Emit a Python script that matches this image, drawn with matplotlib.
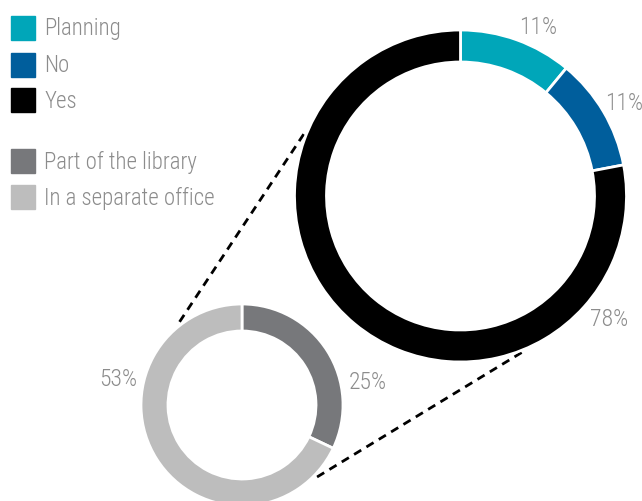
import numpy as np
import matplotlib.pyplot as plt
from matplotlib import font_manager
from matplotlib.patches import Rectangle

# outer ring: does the institution have it
main_labels = ['Planning', 'No', 'Yes']
main_values = [11, 11, 78]
main_colors = ['#00A6B9', '#005E9C', '#000000']

# inner ring: breakdown of "Yes"
sub_labels = ['Part of the library', 'In a separate office']
sub_values = [25, 53]
sub_colors = ['#77787B', '#BDBDBD']

W, H = 642, 502
TEXT_GREY = '#8C8C8C'

# prefer a condensed face when one is around
names = {f.name for f in font_manager.fontManager.ttflist}
FAMILY = 'DejaVu Sans'
STRETCH = 'normal'
for cand in ['Roboto Condensed', 'Liberation Sans Narrow', 'DejaVu Sans Condensed']:
    if cand in names:
        FAMILY = cand
        break
else:
    STRETCH = 'condensed'
TXT = dict(family=FAMILY, stretch=STRETCH, weight='light', color=TEXT_GREY)


def py(y):
    # pixel rows counted from the top
    return H - y


fig = plt.figure(figsize=(W / 100, H / 100), dpi=100)
ax = fig.add_axes([0, 0, 1, 1])

big_c, big_r, big_w = (460.5, py(197)), 166, 32
small_c, small_r, small_w = (242, py(406)), 101, 27

ax.pie(main_values, colors=main_colors, startangle=90, counterclock=False,
       center=big_c, radius=big_r,
       wedgeprops=dict(width=big_w, edgecolor='white', linewidth=2))
ax.pie(sub_values, colors=sub_colors, startangle=90, counterclock=False,
       center=small_c, radius=small_r,
       wedgeprops=dict(width=small_w, edgecolor='white', linewidth=2))

# dashed connectors between the two rings
for a_small, a_big in [(126.9, 157.6), (-43.8, -68.6)]:
    t1, t2 = np.radians(a_small), np.radians(a_big)
    x0 = small_c[0] + (small_r + 3) * np.cos(t1)
    y0 = small_c[1] + (small_r + 3) * np.sin(t1)
    x1 = big_c[0] + (big_r + 2) * np.cos(t2)
    y1 = big_c[1] + (big_r + 2) * np.sin(t2)
    ax.plot([x0, x1], [y0, y1], color='black', lw=2, ls=(0, (3, 2.2)),
            zorder=0)

# percentage labels
fs = 17
main_pos = [(538, 27), (624, 104), (609, 320)]
for v, (x, y) in zip(main_values, main_pos):
    ax.text(x, py(y), f'{v}%', ha='center', va='center', fontsize=fs, **TXT)
sub_pos = [(368, 383), (118, 380)]
for v, (x, y) in zip(sub_values, sub_pos):
    ax.text(x, py(y), f'{v}%', ha='center', va='center', fontsize=fs, **TXT)

# legend
rows = [29, 66, 101, 162, 198]
for lab, col, y in zip(main_labels + sub_labels, main_colors + sub_colors, rows):
    ax.add_patch(Rectangle((11, py(y) - 12), 24, 24, color=col))
    ax.text(44, py(y), lab, ha='left', va='center', fontsize=16.5, **TXT)

ax.set_xlim(0, W)
ax.set_ylim(0, H)
ax.set_aspect('equal')
ax.axis('off')

fig.savefig('out.png', dpi=100)
